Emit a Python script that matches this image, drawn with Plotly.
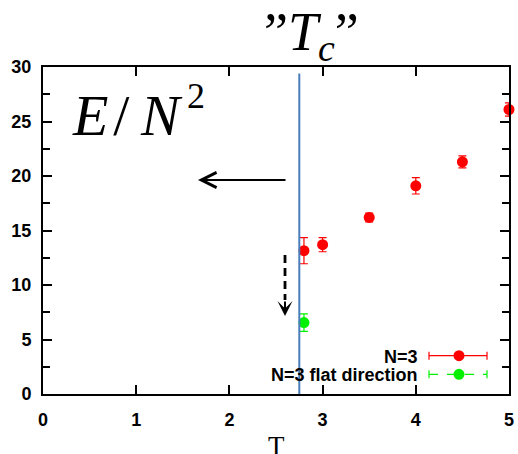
import plotly.graph_objects as go

# ---- data ----
T_n3 = [2.8, 3.0, 3.5, 4.0, 4.5, 5.0]
E_n3 = [13.15, 13.7, 16.2, 19.1, 21.3, 26.1]
err_n3 = [1.2, 0.65, 0.4, 0.75, 0.55, 0.6]

T_flat = [2.8]
E_flat = [6.55]
err_flat = [0.8]

Tc = 2.75
x_ticks = [0, 1, 2, 3, 4, 5]
y_ticks = [0, 5, 10, 15, 20, 25, 30]

RED = "#ff0000"
GREEN = "#00f000"
BLUE = "#4a7ebb"

W, H = 518, 454
ML, MR, MT, MB = 43, 9, 67, 60
PW, PH = W - ML - MR, H - MT - MB


def px(xpix):
    return (xpix - ML) / PW


def py(ypix):
    return (H - MB - ypix) / PH


fig = go.Figure()
fig.add_trace(go.Scatter(
    x=T_n3, y=E_n3, mode="markers", name="N=3",
    marker=dict(color=RED, size=11),
    error_y=dict(type="data", array=err_n3, color=RED, thickness=1.2, width=4),
    cliponaxis=False, showlegend=False))
fig.add_trace(go.Scatter(
    x=T_flat, y=E_flat, mode="markers", name="N=3 flat direction",
    marker=dict(color=GREEN, size=11),
    error_y=dict(type="data", array=err_flat, color=GREEN, thickness=1.2, width=4),
    cliponaxis=False, showlegend=False))

shapes = []
# Tc vertical line
shapes.append(dict(type="line", xref="x", yref="y", x0=Tc, x1=Tc, y0=-1.2, y1=29.4,
                   line=dict(color=BLUE, width=2), layer="above"))
# dashed down arrow shaft
shapes.append(dict(type="line", xref="paper", yref="paper", x0=px(285), x1=px(285),
                   y0=py(255), y1=py(300), line=dict(color="black", width=2.8, dash="8px,5px")))

# manual legend samples
for ypix, col, dash in [(355.7, RED, "solid"), (374.3, GREEN, "dash")]:
    shapes.append(dict(type="line", xref="paper", yref="paper", x0=px(429), x1=px(487),
                       y0=py(ypix), y1=py(ypix), line=dict(color=col, width=1.2, dash=dash)))
    for xe in (429, 487):
        shapes.append(dict(type="line", xref="paper", yref="paper", x0=px(xe), x1=px(xe),
                           y0=py(ypix - 4), y1=py(ypix + 4), line=dict(color=col, width=1.2)))
    shapes.append(dict(type="circle", xref="paper", yref="paper",
                       x0=px(459 - 5.5), x1=px(459 + 5.5), y0=py(ypix + 5.5), y1=py(ypix - 5.5),
                       fillcolor=col, line=dict(color=col, width=0)))

annotations = []
# legend labels
lab_font = dict(family="Liberation Sans", size=18, color="black")
annotations.append(dict(xref="paper", yref="paper", x=px(420), y=py(356.5), text="<b>N=3</b>",
                        showarrow=False, xanchor="right", yanchor="middle", font=lab_font))
annotations.append(dict(xref="paper", yref="paper", x=px(420), y=py(375),
                        text="<b>N=3 flat direction</b>",
                        showarrow=False, xanchor="right", yanchor="middle", font=lab_font))
# left arrow
annotations.append(dict(xref="paper", yref="paper", axref="pixel", ayref="pixel",
                        x=px(198), y=py(180), ax=287 - 198, ay=0, text="",
                        showarrow=True, arrowhead=5, arrowsize=1.5, arrowwidth=2, arrowcolor="black"))
# dashed arrow head
annotations.append(dict(xref="paper", yref="paper", axref="pixel", ayref="pixel",
                        x=px(285), y=py(316), ax=0, ay=-16, text="",
                        showarrow=True, arrowhead=3, arrowsize=1.25, arrowwidth=2, arrowcolor="black"))
# E/N^2
annotations.append(dict(xref="paper", yref="paper", x=px(70), y=py(115),
                        text="<i>E</i>\u200a/\u2009<i>N</i>",
                        showarrow=False, xanchor="left", yanchor="middle",
                        font=dict(family="Liberation Serif", size=58, color="black")))
annotations.append(dict(xref="paper", yref="paper", x=px(196), y=py(96),
                        text="2",
                        showarrow=False, xanchor="center", yanchor="middle",
                        font=dict(family="Liberation Serif", size=36, color="black")))
# "Tc"
annotations.append(dict(xref="paper", yref="paper", x=px(311), y=py(35),
                        text="\u201d<i>T<sub>c</sub></i>\u201d",
                        showarrow=False, xanchor="center", yanchor="middle",
                        font=dict(family="Liberation Serif", size=54, color="black")))
# x axis title
annotations.append(dict(xref="paper", yref="paper", x=0.5, y=py(446), text="T",
                        showarrow=False, xanchor="center", yanchor="middle",
                        font=dict(family="Liberation Serif", size=27, color="black")))

tick_font = dict(family="Liberation Sans", size=18, color="black")
fig.update_layout(
    width=W, height=H,
    margin=dict(l=ML, r=MR, t=MT, b=MB, autoexpand=False),
    paper_bgcolor="white", plot_bgcolor="white",
    shapes=shapes, annotations=annotations,
    xaxis=dict(range=[0, 5], tickvals=x_ticks, ticktext=[f"<b>{v}</b>" for v in x_ticks],
               ticks="inside", ticklen=9, tickwidth=1.5, tickcolor="black",
               showline=True, linecolor="black", linewidth=2, mirror="ticks",
               showgrid=False, zeroline=False, tickfont=tick_font, ticklabelstandoff=8,
               fixedrange=True),
    yaxis=dict(range=[0, 30], tickvals=y_ticks, ticktext=[f"<b>{v}</b>" for v in y_ticks],
               ticks="inside", ticklen=9, tickwidth=1.5, tickcolor="black",
               minor=dict(dtick=2.5, tick0=0, ticks="inside", ticklen=7, tickwidth=1.5,
                          tickcolor="black", showgrid=False),
               showline=True, linecolor="black", linewidth=2, mirror="ticks",
               showgrid=False, zeroline=False, tickfont=tick_font, ticklabelstandoff=6,
               fixedrange=True),
)

fig.write_html("out.html", config={"displayModeBar": False},
               post_script="document.body.style.margin='0';document.body.style.overflow='hidden';")
